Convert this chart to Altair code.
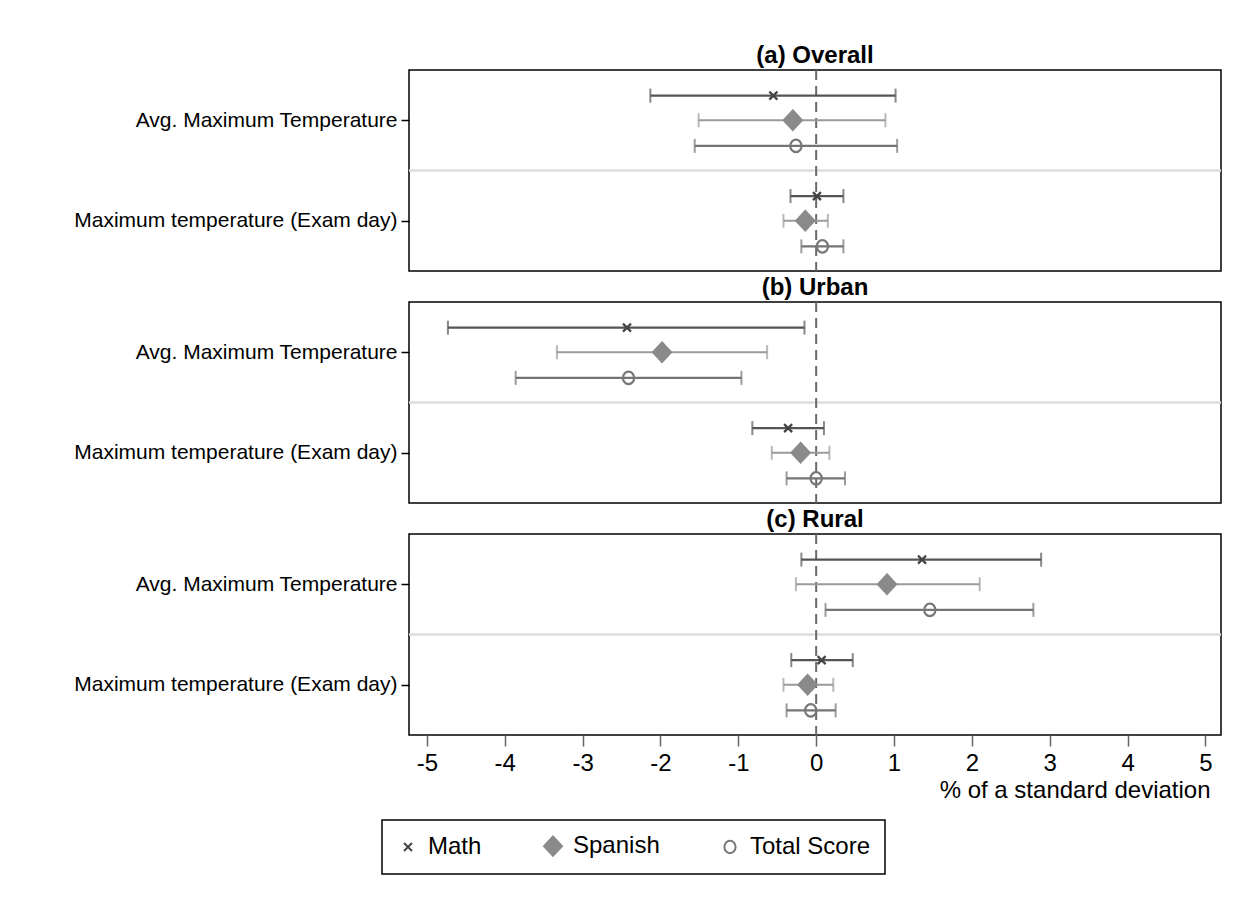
import altair as alt
import pandas as pd

# ---------------- data ----------------
panels = ["(a) Overall", "(b) Urban", "(c) Rural"]
rows = ["Avg. Maximum Temperature", "Maximum temperature (Exam day)"]
series = ["Math", "Spanish", "Total Score"]

# order: row 0 (Math, Spanish, Total Score), row 1 (Math, Spanish, Total Score)
est_overall = [-0.55, -0.30, -0.26, 0.01, -0.14, 0.08]
lo_overall = [-2.13, -1.51, -1.56, -0.33, -0.42, -0.19]
hi_overall = [1.02, 0.89, 1.04, 0.35, 0.15, 0.35]

est_urban = [-2.43, -1.98, -2.41, -0.36, -0.20, 0.00]
lo_urban = [-4.73, -3.33, -3.86, -0.82, -0.57, -0.38]
hi_urban = [-0.15, -0.63, -0.96, 0.10, 0.17, 0.37]

est_rural = [1.36, 0.91, 1.46, 0.07, -0.11, -0.07]
lo_rural = [-0.19, -0.26, 0.12, -0.32, -0.42, -0.38]
hi_rural = [2.89, 2.10, 2.79, 0.47, 0.22, 0.25]

x_ticks = [-5, -4, -3, -2, -1, 0, 1, 2, 3, 4, 5]
x_title = "% of a standard deviation"

panel_values = [
    (est_overall, lo_overall, hi_overall),
    (est_urban, lo_urban, hi_urban),
    (est_rural, lo_rural, hi_rural),
]

# ---------------- styling ----------------
FONT = "Liberation Sans"
series_offset = [-0.245, 0.0, 0.255]
ci_colors = ["#555555", "#9a9a9a", "#747474"]
pt_stroke = ["#444444", "#8a8a8a", "#777777"]
pt_fill = ["transparent", "#8a8a8a", "transparent"]
# symbol outlines (unit box -1..1), drawn at a common size
pt_shape = [
    "M-0.4,-0.4L0.4,0.4M0.4,-0.4L-0.4,0.4",
    "M0,-0.97L0.9,0L0,0.97L-0.9,0Z",
    "M0.56,0A0.56,0.62 0 1,1 -0.56,0A0.56,0.62 0 1,1 0.56,0Z",
]
PT_SIZE = 400
X_DOMAIN = [-5.23, 5.2]
W, H = 812, 201
SPACING = 2
TITLE_FS = 24
TITLE_OFF = 1

label_expr = "datum.value < 1 ? '%s' : '%s'" % (rows[0], rows[1])

ser_scale_ci = alt.Scale(domain=series, range=ci_colors)


def make_df(vals):
    est, lo, hi = vals
    recs = []
    for r, rname in enumerate(rows):
        for s, sname in enumerate(series):
            i = r * len(series) + s
            recs.append(dict(row=rname, series=sname, pos=r + 0.5 + series_offset[s],
                             est=est[i], lo=lo[i], hi=hi[i]))
    return pd.DataFrame(recs)


def make_panel(title, vals, show_x):
    df = make_df(vals)
    caps = df.melt(id_vars=["row", "series", "pos"], value_vars=["lo", "hi"],
                   var_name="end", value_name="xv")
    if show_x:
        xaxis = alt.Axis(values=x_ticks, title=x_title, grid=False, domain=False,
                         labelExpr="datum.value + ''",
                         tickColor="#666666", tickSize=11, tickWidth=1.5,
                         labelFontSize=24, labelPadding=5, labelColor="black",
                         titleFontSize=24, titleFontWeight="normal", titleAnchor="end",
                         titleX=W - 11, titleAlign="right",
                         titlePadding=3, titleColor="black", labelFont=FONT, titleFont=FONT,
                         labelFlush=False)
    else:
        xaxis = None
    xs = alt.Scale(domain=X_DOMAIN, nice=False, zero=False)
    ys = alt.Scale(domain=[0, 2], reverse=True, nice=False)
    yaxis = alt.Axis(values=[0.5, 1.5], labelExpr=label_expr, title=None, grid=False,
                     domain=False, tickColor="black", tickSize=8, tickWidth=1.5,
                     labelFontSize=21, labelPadding=4, labelColor="black", labelFont=FONT,
                     labelLimit=600)

    sep = pd.DataFrame({"b": [1.0]})
    zero = pd.DataFrame({"z": [0.0]})

    sep_rule = alt.Chart(sep).mark_rule(color="#dddddd", strokeWidth=2.5).encode(
        y=alt.Y("b:Q", scale=ys, axis=yaxis)
    )
    zero_rule = alt.Chart(zero).mark_rule(color="#6a6a6a", strokeWidth=2, strokeDash=[10, 6]).encode(
        x=alt.X("z:Q", scale=xs, axis=xaxis)
    )
    ci = alt.Chart(df).mark_rule(strokeWidth=2.2).encode(
        x=alt.X("lo:Q", scale=xs, axis=xaxis),
        x2="hi:Q",
        y=alt.Y("pos:Q", scale=ys, axis=yaxis),
        color=alt.Color("series:N", scale=ser_scale_ci, legend=None),
    )
    cap = alt.Chart(caps).mark_tick(orient="vertical", size=14, thickness=2).encode(
        x=alt.X("xv:Q", scale=xs, axis=xaxis),
        y=alt.Y("pos:Q", scale=ys, axis=yaxis),
        color=alt.Color("series:N", scale=ser_scale_ci, legend=None),
    )
    leg = alt.Legend(title=None)
    pts = alt.Chart(df).mark_point(strokeWidth=2.2, opacity=1, size=PT_SIZE).encode(
        x=alt.X("est:Q", scale=xs, axis=xaxis),
        y=alt.Y("pos:Q", scale=ys, axis=yaxis),
        shape=alt.Shape("series:N", scale=alt.Scale(domain=series, range=pt_shape), legend=leg),
        stroke=alt.Stroke("series:N", scale=alt.Scale(domain=series, range=pt_stroke), legend=leg),
        fill=alt.Fill("series:N", scale=alt.Scale(domain=series, range=pt_fill), legend=leg),
    )
    return alt.layer(sep_rule, zero_rule, ci, cap, pts).properties(
        width=W, height=H,
        title=alt.TitleParams(title, fontSize=TITLE_FS, fontWeight="bold", font=FONT,
                              anchor="middle", offset=TITLE_OFF, color="black"),
    ).resolve_scale(color="independent")


charts = [make_panel(panels[i], panel_values[i], i == 2) for i in range(3)]

chart = alt.vconcat(*charts, spacing=SPACING).resolve_scale(
    shape="shared", stroke="shared", fill="shared"
).properties(
    padding={"left": 72, "top": 43, "right": 20, "bottom": 10},
    background="white",
).configure_view(
    stroke="black", strokeWidth=1.5
).configure_legend(
    orient="none", legendX=-27, legendY=750,
    direction="horizontal", strokeColor="black", strokeWidth=1.5, padding=14,
    labelFontSize=24, labelFont=FONT, labelColor="black", labelOffset=8,
    columnPadding=58, symbolStrokeWidth=2, symbolSize=PT_SIZE,
).configure_title(font=FONT)

chart.save("out.html", embed_options={"renderer": "svg", "actions": False})
